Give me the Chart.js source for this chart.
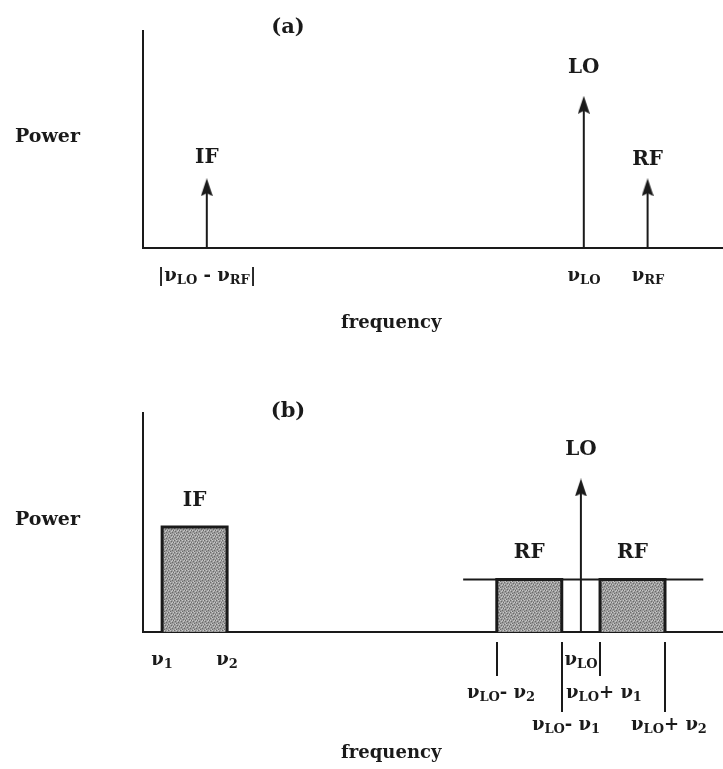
<!DOCTYPE html>
<html>
<head>
<meta charset="utf-8">
<script src="https://cdn.jsdelivr.net/npm/chart.js@4.4.0/dist/chart.umd.min.js"></script>
<style>
    html, body { margin: 0; padding: 0; background: #fff; }
    #wrap { position: relative; width: 723px; height: 769px; overflow: hidden; }
    canvas { position: absolute; left: 0; }
    #chartA { top: 0; }
    #chartB { top: 384px; }
</style>
</head>
<body>
<div id="wrap">
    <canvas id="chartA" width="723" height="384"></canvas>
    <canvas id="chartB" width="723" height="385"></canvas>
</div>
<script>
// ==================== Data ====================

// (a) 단일 톤: IF / LO / RF
const aNames = ['IF', 'LO', 'RF'];
const aFreq = [11, 76, 87];
const aPower = [28, 66, 28];
const aTickFreq = [11, 76, 87];
const aTickLabels = ['|ν_{LO} - ν_{RF}|', 'ν_{LO}', 'ν_{RF}'];

// (b) 대역: IF 대역, RF 상/하 측파대, LO
const bIfBand = [3.3, 14.5];
const bIfPower = 48;
const bRfLower = [61, 72.2];
const bRfUpper = [78.8, 90];
const bRfPower = 24;
const bRfSpan = [55.2, 96.6];
const bLoFreq = 75.5;
const bLoPower = 66;
const bNames = ['IF', 'RF', 'RF', 'LO'];
const bTickFreq = [3.3, 14.5, 61, 72.2, 75.5, 78.8, 90];
const bTickLabels = ['ν_{1}', 'ν_{2}', 'ν_{LO}- ν_{2}', 'ν_{LO}- ν_{1}', 'ν_{LO}', 'ν_{LO}+ ν_{1}', 'ν_{LO}+ ν_{2}'];
const bTickRows = [0, 0, 1, 2, 0, 1, 2];
const bTickMarks = [false, false, true, true, false, true, true];

// ==================== Style ====================

const INK = '#1a1a1a';
const FACE = '"DejaVu Serif", "Liberation Serif", serif';
const HEAD_H = 18;

/**
 * 화살촉 이미지 (pointStyle 용)
 */
function makeArrowHead() {
    const c = document.createElement('canvas');
    c.width = 12;
    c.height = HEAD_H;
    const g = c.getContext('2d');
    g.fillStyle = INK;
    g.beginPath();
    g.moveTo(6, 0);
    g.lineTo(12, HEAD_H);
    g.lineTo(6, HEAD_H - 3);
    g.lineTo(0, HEAD_H);
    g.closePath();
    g.fill();
    return c;
}

/**
 * 점묘 회색 패턴 (스캔된 망점 느낌)
 */
function makeStipple() {
    const c = document.createElement('canvas');
    c.width = 6;
    c.height = 6;
    const g = c.getContext('2d');
    g.fillStyle = '#9c9c9c';
    g.fillRect(0, 0, 6, 6);
    g.fillStyle = '#6a6a6a';
    [[0, 0], [3, 1], [1, 3], [4, 4], [2, 5], [5, 2]].forEach(p => g.fillRect(p[0], p[1], 1, 1));
    g.fillStyle = '#c8c8c8';
    [[2, 0], [5, 0], [0, 2], [3, 3], [1, 5], [4, 2]].forEach(p => g.fillRect(p[0], p[1], 1, 1));
    return g.createPattern(c, 'repeat');
}

const arrowHead = makeArrowHead();
const stipple = makeStipple();

// ==================== Text Utilities ====================

function parseRich(str) {
    const parts = [];
    const re = /_\{([^}]*)\}/g;
    let last = 0;
    let m;
    while ((m = re.exec(str))) {
        if (m.index > last) parts.push({ t: str.slice(last, m.index), sub: false });
        parts.push({ t: m[1], sub: true });
        last = re.lastIndex;
    }
    if (last < str.length) parts.push({ t: str.slice(last), sub: false });
    return parts;
}

// 아래첨자 포함 텍스트 (baseline 기준, 가운데 정렬)
function drawRich(ctx, str, cx, baseY) {
    const parts = parseRich(str);
    let total = 0;
    parts.forEach(p => {
        ctx.font = p.sub ? `bold 13px ${FACE}` : `bold 18px ${FACE}`;
        p.w = ctx.measureText(p.t).width;
        total += p.w;
    });
    let x = cx - total / 2;
    ctx.textAlign = 'left';
    ctx.textBaseline = 'alphabetic';
    parts.forEach(p => {
        ctx.font = p.sub ? `bold 13px ${FACE}` : `bold 18px ${FACE}`;
        ctx.fillText(p.t, x, p.sub ? baseY + 3 : baseY);
        x += p.w;
    });
}

function drawText(ctx, str, x, baseY, size, align) {
    ctx.font = `bold ${size}px ${FACE}`;
    ctx.textAlign = align || 'center';
    ctx.textBaseline = 'alphabetic';
    ctx.fillText(str, x, baseY);
}

// ==================== Annotation Plugin ====================

function makeAnnotator(cfg) {
    return {
        id: 'annotate',
        afterDatasetsDraw(chart) {
            const ctx = chart.ctx;
            const xs = chart.scales.x;
            const ys = chart.scales.y;
            const area = chart.chartArea;
            const axisY = ys.getPixelForValue(0);
            const rowBase = [33, 66, 98];
            const rowMark = [0, 44, 80];

            ctx.save();
            ctx.fillStyle = INK;
            ctx.strokeStyle = INK;

            // 패널 이름
            drawText(ctx, cfg.panel, xs.getPixelForValue(25), area.top + cfg.panelDy, 21);

            // y축 이름
            drawText(ctx, 'Power', 15, (area.top + area.bottom) / 2 + 2, 19, 'left');

            // x축 이름
            drawText(ctx, 'frequency', xs.getPixelForValue(42.8), axisY + cfg.freqDy, 18);

            // 신호 라벨
            cfg.marks.forEach(mk => {
                let top = ys.getPixelForValue(mk.y);
                if (mk.head) top -= HEAD_H / 2;
                drawText(ctx, mk.text, xs.getPixelForValue(mk.x), top - mk.gap, 20);
            });

            // 주파수 눈금 라벨
            ctx.lineWidth = 2;
            cfg.ticks.forEach(tk => {
                const px = Math.round(xs.getPixelForValue(tk.x));
                if (tk.mark) {
                    ctx.beginPath();
                    ctx.moveTo(px, axisY + 10);
                    ctx.lineTo(px, axisY + rowMark[tk.row]);
                    ctx.stroke();
                }
                drawRich(ctx, tk.text, px + (tk.row ? 4 : 0), axisY + rowBase[tk.row]);
            });

            ctx.restore();
        }
    };
}

// ==================== Chart Builders ====================

function arrowDataset(freq, power) {
    return {
        data: [{ x: freq, y: 0 }, { x: freq, y: power }],
        showLine: true,
        borderColor: INK,
        borderWidth: 2,
        pointRadius: [0, 6],
        pointStyle: ['circle', arrowHead],
        clip: false
    };
}

function bandDataset(band, power) {
    return {
        data: [
            { x: band[0], y: 0 },
            { x: band[0], y: power },
            { x: band[1], y: power },
            { x: band[1], y: 0 }
        ],
        showLine: true,
        fill: 'origin',
        backgroundColor: stipple,
        borderColor: INK,
        borderWidth: 3,
        pointRadius: 0
    };
}

function baseOptions(padTop, padBottom) {
    const axis = {
        type: 'linear',
        min: 0,
        max: 100,
        grid: { display: false, drawTicks: false },
        ticks: { display: false },
        border: { color: INK, width: 2 }
    };
    return {
        responsive: false,
        animation: false,
        events: [],
        layout: {
            autoPadding: false,
            padding: { left: 143, right: 0, top: padTop, bottom: padBottom }
        },
        plugins: { legend: { display: false }, tooltip: { enabled: false } },
        scales: { x: { ...axis }, y: { ...axis } }
    };
}

// (a)
new Chart(document.getElementById('chartA'), {
    type: 'scatter',
    data: {
        datasets: aNames.map((n, i) => arrowDataset(aFreq[i], aPower[i]))
    },
    options: baseOptions(31, 136),
    plugins: [makeAnnotator({
        panel: '(a)',
        panelDy: 2,
        freqDy: 80,
        marks: aNames.map((n, i) => ({ text: n, x: aFreq[i], y: aPower[i], head: true, gap: [15, 23, 13][i] })),
        ticks: aTickLabels.map((t, i) => ({ text: t, x: aTickFreq[i], row: 0, mark: false }))
    })]
});

// (b)
new Chart(document.getElementById('chartB'), {
    type: 'scatter',
    data: {
        datasets: [
            bandDataset(bIfBand, bIfPower),
            bandDataset(bRfLower, bRfPower),
            bandDataset(bRfUpper, bRfPower),
            {
                data: [{ x: bRfSpan[0], y: bRfPower }, { x: bRfSpan[1], y: bRfPower }],
                showLine: true,
                borderColor: INK,
                borderWidth: 2,
                pointRadius: 0
            },
            arrowDataset(bLoFreq, bLoPower)
        ]
    },
    options: baseOptions(29, 137),
    plugins: [makeAnnotator({
        panel: '(b)',
        panelDy: 4,
        freqDy: 126,
        marks: [
            { text: bNames[0], x: (bIfBand[0] + bIfBand[1]) / 2, y: bIfPower, head: false, gap: 21 },
            { text: bNames[1], x: (bRfLower[0] + bRfLower[1]) / 2, y: bRfPower, head: false, gap: 21 },
            { text: bNames[2], x: (bRfUpper[0] + bRfUpper[1]) / 2, y: bRfPower, head: false, gap: 21 },
            { text: bNames[3], x: bLoFreq, y: bLoPower, head: true, gap: 23 }
        ],
        ticks: bTickLabels.map((t, i) => ({ text: t, x: bTickFreq[i], row: bTickRows[i], mark: bTickMarks[i] }))
    })]
});
</script>
</body>
</html>
